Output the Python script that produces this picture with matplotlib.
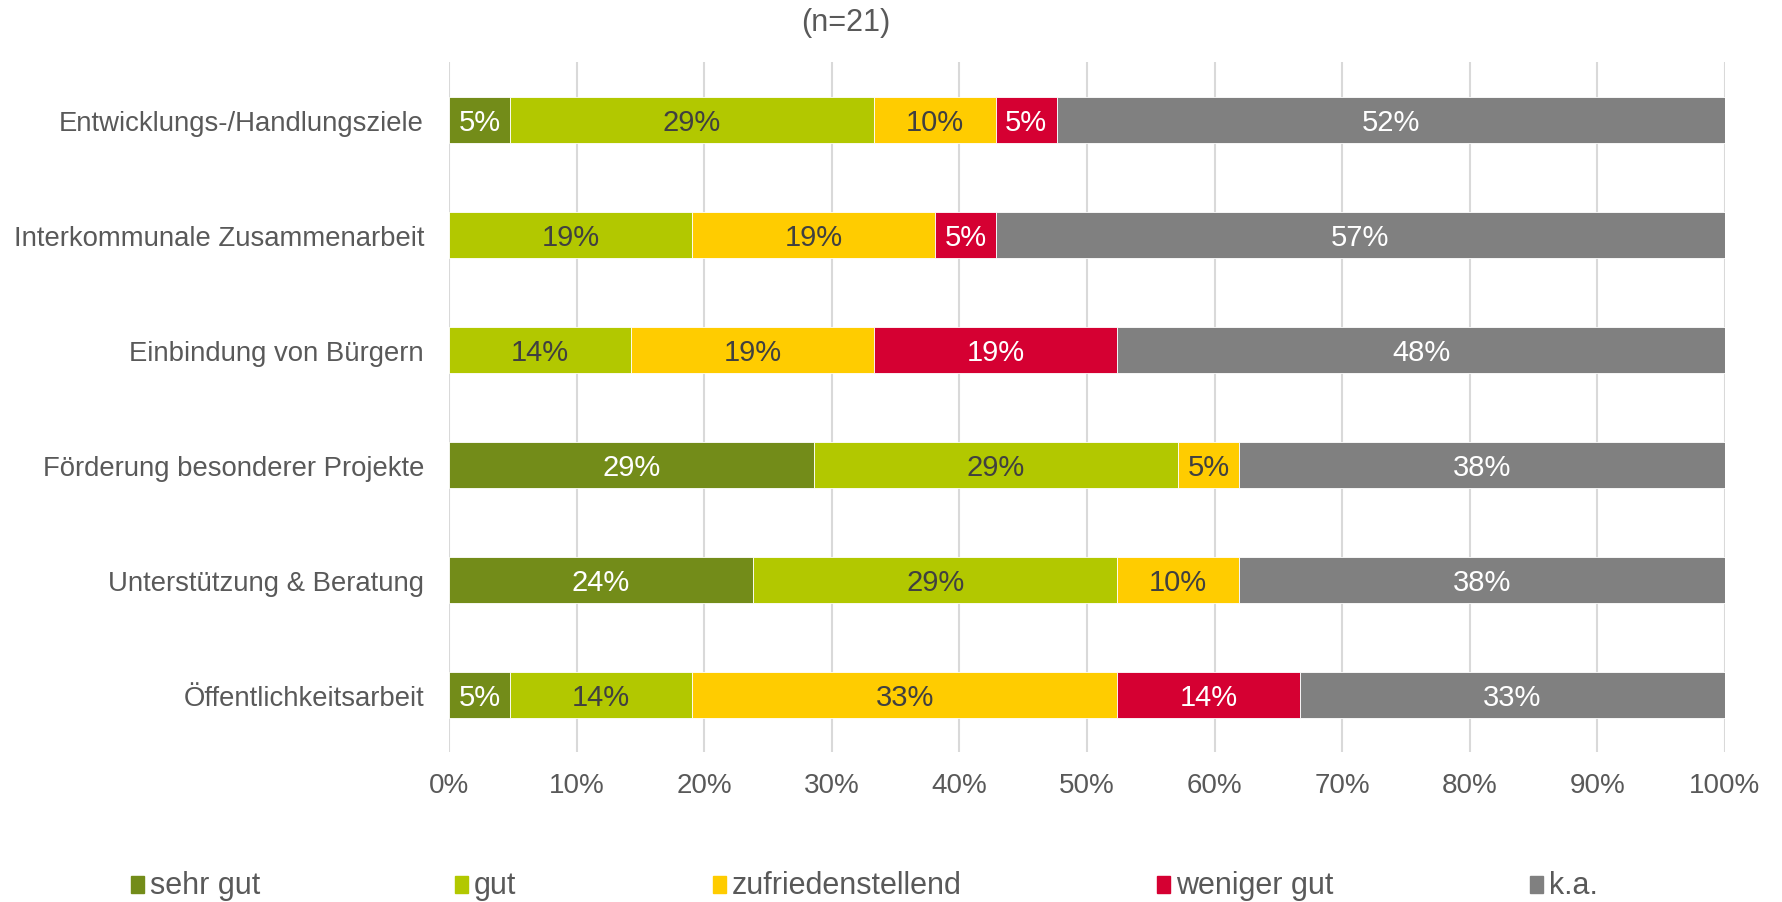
import numpy as np
import matplotlib
matplotlib.use("Agg")
import matplotlib.pyplot as plt
from matplotlib.patches import Rectangle

# survey answers (counts out of n=21)
n_total = 21
categories = [
    "Entwicklungs-/Handlungsziele",
    "Interkommunale Zusammenarbeit",
    "Einbindung von Bürgern",
    "Förderung besonderer Projekte",
    "Unterstützung & Beratung",
    "Öffentlichkeitsarbeit",
]
series_names = ["sehr gut", "gut", "zufriedenstellend", "weniger gut", "k.a."]
sehr_gut = [1, 0, 0, 6, 5, 1]
gut = [6, 4, 3, 6, 6, 3]
zufrieden = [2, 4, 4, 1, 2, 7]
weniger_gut = [1, 1, 4, 0, 0, 3]
ka = [11, 12, 10, 8, 8, 7]
tick_labels = ["0%", "10%", "20%", "30%", "40%", "50%", "60%", "70%", "80%", "90%", "100%"]

colors = ["#738C19", "#B2C800", "#FFCC00", "#D50032", "#808080"]
label_colors = ["white", "#404040", "#404040", "white", "white"]
grey_text = "#595959"

plt.rcParams["font.family"] = ["Liberation Sans", "DejaVu Sans"]

fig = plt.figure(figsize=(17.82, 9.03), dpi=100)
ax = fig.add_axes([0.252, 0.166, 0.716, 0.764])

series = [sehr_gut, gut, zufrieden, weniger_gut, ka]
y = np.arange(len(categories))
left = np.zeros(len(categories))
for vals, col, lcol in zip(series, colors, label_colors):
    pct = np.array(vals) / n_total * 100
    ax.barh(y, pct, left=left, height=0.4, color=col, edgecolor="white",
            linewidth=0.6, zorder=3)
    for yi, (l, p) in enumerate(zip(left, pct)):
        if p > 0:
            ax.text(l + p / 2, yi + 0.02, f"{p:.0f}%", ha="center", va="center",
                    fontsize=21, color=lcol, zorder=4)
    left += pct

ax.set_xlim(0, 100)
ax.set_ylim(len(categories) - 0.5, -0.5)
ax.set_yticks(y)
ax.set_yticklabels(categories, fontsize=19.8, color=grey_text)
ax.set_xticks(np.arange(0, 101, 10))
ax.set_xticklabels(tick_labels, fontsize=20, color=grey_text)
ax.tick_params(axis="y", length=0, pad=18)
ax.tick_params(axis="x", length=0, pad=14)
ax.grid(axis="x", color="#D9D9D9", linewidth=1.5, zorder=0)
for s in ax.spines.values():
    s.set_visible(False)

fig.text(0.4745, 0.975, "(n=21)", ha="center", va="center", fontsize=22,
         color=grey_text)

# legend entries placed like the original
marker_x = [131, 455, 713, 1157, 1530]
for name, col, mx in zip(series_names, colors, marker_x):
    fig.patches.append(Rectangle((mx / 1782, 0.0105), 13 / 1782, 0.018,
                                 transform=fig.transFigure, color=col))
    fig.text((mx + 19) / 1782, 0.0185, name, ha="left", va="center",
             fontsize=22, color=grey_text)

fig.savefig("out.png", dpi=100)
